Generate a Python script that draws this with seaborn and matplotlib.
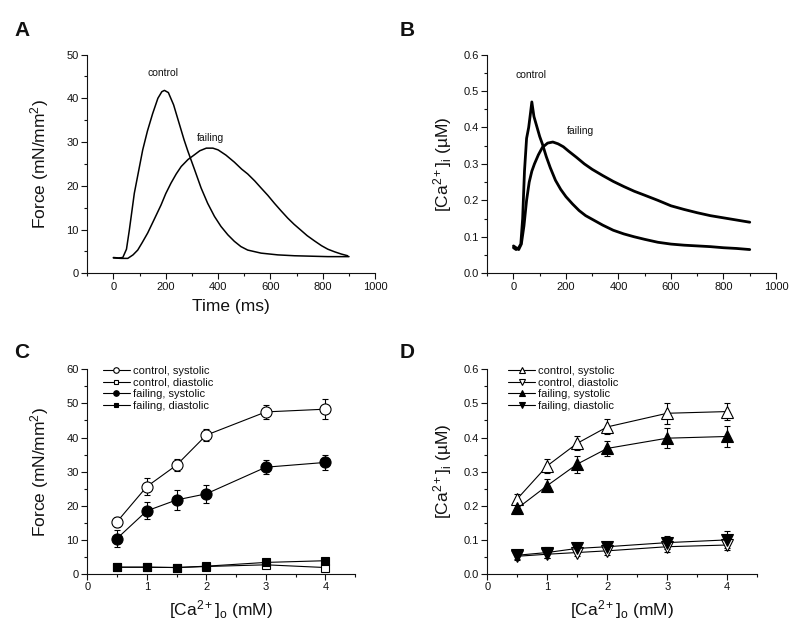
import numpy as np
import pandas as pd
import matplotlib
matplotlib.use("Agg")
import matplotlib.pyplot as plt
import seaborn as sns
from matplotlib.ticker import AutoMinorLocator, MultipleLocator, FormatStrFormatter

sns.set_style("ticks")
plt.rcParams["font.family"] = ["Liberation Sans", "DejaVu Sans"]
plt.rcParams["mathtext.fontset"] = "custom"
plt.rcParams["mathtext.rm"] = "Liberation Sans"
plt.rcParams["mathtext.it"] = "Liberation Sans:italic"
plt.rcParams["axes.linewidth"] = 0.8
plt.rcParams["xtick.direction"] = "out"
plt.rcParams["ytick.direction"] = "out"
for key in ["text.color", "axes.labelcolor", "xtick.color", "ytick.color", "axes.edgecolor"]:
    plt.rcParams[key] = "#111111"

# Panel A: force traces (ms, mN/mm^2)
force_ctrl_t = [0, 20, 36, 50, 61, 80, 112, 130, 150, 170, 185, 195, 210, 230, 250,
                270, 284, 310, 335, 360, 386, 411, 437, 462, 487, 513, 564, 628, 692,
                819, 900]
force_ctrl = [3.6, 3.5, 3.6, 5.5, 9.9, 18.3, 28.2, 32.5, 36.5, 40.0, 41.5, 41.8, 41.3,
              38.5, 34.5, 30.5, 28.0, 23.7, 19.5, 16.0, 13.0, 10.7, 8.8, 7.3, 6.1,
              5.3, 4.6, 4.2, 4.0, 3.8, 3.8]
force_fail_t = [0, 30, 55, 75, 93, 110, 131, 155, 182, 200, 220, 240, 259, 285, 310,
                330, 355, 380, 400, 430, 462, 490, 513, 540, 564, 590, 615, 640, 666,
                690, 717, 740, 768, 795, 819, 845, 870, 895]
force_fail = [3.5, 3.4, 3.4, 4.2, 5.3, 7.0, 9.2, 12.2, 15.6, 18.2, 20.6, 22.7, 24.4,
              26.0, 27.1, 28.0, 28.6, 28.6, 28.2, 27.0, 25.4, 23.8, 22.7, 21.1, 19.5,
              17.8, 16.0, 14.3, 12.6, 11.2, 9.8, 8.6, 7.4, 6.3, 5.5, 4.9, 4.4, 4.0]

# Panel B: calcium transients (ms, uM)
ca_ctrl_t = [0, 10, 20, 28, 35, 42, 50, 58, 65, 70, 78, 90, 100, 110, 125, 140, 160,
             180, 200, 225, 250, 275, 300, 340, 380, 420, 460, 500, 550, 600, 650,
             700, 750, 800, 850, 900]
ca_ctrl = [0.07, 0.065, 0.07, 0.08, 0.15, 0.28, 0.37, 0.40, 0.44, 0.47, 0.43, 0.40,
           0.375, 0.355, 0.32, 0.29, 0.255, 0.23, 0.21, 0.19, 0.172, 0.158, 0.148,
           0.132, 0.118, 0.108, 0.10, 0.093, 0.085, 0.08, 0.077, 0.075, 0.073, 0.07,
           0.068, 0.065]
ca_fail_t = [0, 10, 20, 30, 40, 50, 60, 70, 80, 95, 110, 130, 150, 170, 190, 210, 240,
             270, 300, 340, 380, 420, 460, 500, 550, 600, 650, 700, 750, 800, 850, 900]
ca_fail = [0.075, 0.07, 0.065, 0.08, 0.13, 0.20, 0.25, 0.28, 0.30, 0.325, 0.345, 0.357,
           0.36, 0.355, 0.347, 0.335, 0.318, 0.30, 0.285, 0.268, 0.252, 0.238, 0.225,
           0.214, 0.20, 0.185, 0.175, 0.166, 0.158, 0.152, 0.146, 0.14]

# Panels C and D: extracellular calcium (mM)
ca_out = [0.5, 1, 1.5, 2, 3, 4]

force_ctrl_sys = [15.3, 25.6, 31.9, 40.7, 47.5, 48.3]
force_ctrl_sys_err = [1.5, 2.4, 1.8, 1.8, 2.0, 3.0]
force_ctrl_dia = [2.0, 2.0, 1.9, 2.2, 2.7, 1.9]
force_ctrl_dia_err = [0.3, 0.3, 0.3, 0.4, 0.5, 0.5]
force_fail_sys = [10.4, 18.5, 21.7, 23.5, 31.3, 32.7]
force_fail_sys_err = [2.5, 2.5, 2.8, 2.7, 2.0, 2.2]
force_fail_dia = [2.0, 2.0, 1.9, 2.3, 3.4, 3.9]
force_fail_dia_err = [0.4, 0.4, 0.4, 0.4, 0.5, 0.5]

cai_ctrl_sys = [0.22, 0.317, 0.383, 0.431, 0.471, 0.476]
cai_ctrl_sys_err = [0.015, 0.02, 0.02, 0.022, 0.03, 0.025]
cai_ctrl_dia = [0.052, 0.058, 0.063, 0.068, 0.08, 0.085]
cai_ctrl_dia_err = [0.01, 0.01, 0.01, 0.012, 0.015, 0.015]
cai_fail_sys = [0.192, 0.259, 0.322, 0.368, 0.398, 0.403]
cai_fail_sys_err = [0.015, 0.02, 0.025, 0.022, 0.03, 0.03]
cai_fail_dia = [0.055, 0.063, 0.075, 0.08, 0.092, 0.10]
cai_fail_dia_err = [0.012, 0.015, 0.012, 0.015, 0.02, 0.025]

TICK_FS = 8
LABEL_FS = 12.5

fig = plt.figure(figsize=(8, 6.34), dpi=100)
axA = fig.add_axes([0.109, 0.569, 0.36, 0.345])
axB = fig.add_axes([0.609, 0.569, 0.361, 0.345])
axC = fig.add_axes([0.109, 0.0946, 0.335, 0.323])
axD = fig.add_axes([0.609, 0.0946, 0.3375, 0.323])


def style_axis(ax):
    sns.despine(ax=ax)
    ax.xaxis.set_minor_locator(AutoMinorLocator(2))
    ax.yaxis.set_minor_locator(AutoMinorLocator(2))
    ax.tick_params(which="major", length=4, width=0.8, labelsize=TICK_FS, pad=2)
    ax.tick_params(which="minor", length=2, width=0.8)


# A
sns.lineplot(x=force_ctrl_t, y=force_ctrl, ax=axA, color="black", linewidth=1.1)
sns.lineplot(x=force_fail_t, y=force_fail, ax=axA, color="black", linewidth=1.1)
axA.set_xlim(-100, 1000)
axA.set_ylim(0, 50)
axA.xaxis.set_major_locator(MultipleLocator(200))
axA.yaxis.set_major_locator(MultipleLocator(10))
axA.text(190, 45.7, "control", ha="center", va="center", fontsize=7.5)
axA.text(370, 31, "failing", ha="center", va="center", fontsize=7.5)
axA.set_xlabel("Time (ms)", fontsize=LABEL_FS, labelpad=5)
axA.set_ylabel("Force (mN/mm$^2$)", fontsize=LABEL_FS, labelpad=11)
style_axis(axA)

# B
sns.lineplot(x=ca_ctrl_t, y=ca_ctrl, ax=axB, color="black", linewidth=2.0)
sns.lineplot(x=ca_fail_t, y=ca_fail, ax=axB, color="black", linewidth=2.0)
axB.set_xlim(-100, 1000)
axB.set_ylim(0, 0.6)
axB.xaxis.set_major_locator(MultipleLocator(200))
axB.yaxis.set_major_locator(MultipleLocator(0.1))
axB.yaxis.set_major_formatter(FormatStrFormatter("%.1f"))
axB.text(65, 0.543, "control", ha="center", va="center", fontsize=7.5)
axB.text(256, 0.389, "failing", ha="center", va="center", fontsize=7.5)
axB.set_ylabel("[Ca$^{2+}$]$_\\mathrm{i}$ (\u00b5M)", fontsize=LABEL_FS, labelpad=7)
style_axis(axB)


def dose_series(ax, y, err, marker, filled, label, ms):
    face = "black" if filled else "white"
    ax.errorbar(ca_out, y, yerr=err, fmt="none", ecolor="black", elinewidth=0.8,
                capsize=2.5, capthick=0.8, zorder=2)
    sns.lineplot(x=ca_out, y=y, ax=ax, color="black", linewidth=0.8, marker=marker,
                 markersize=ms, markerfacecolor=face, markeredgecolor="black",
                 markeredgewidth=0.8, label=label, zorder=3)


# C
dose_series(axC, force_ctrl_sys, force_ctrl_sys_err, "o", False, "control, systolic", 8)
dose_series(axC, force_ctrl_dia, force_ctrl_dia_err, "s", False, "control, diastolic", 6)
dose_series(axC, force_fail_sys, force_fail_sys_err, "o", True, "failing, systolic", 8)
dose_series(axC, force_fail_dia, force_fail_dia_err, "s", True, "failing, diastolic", 6)
axC.set_xlim(0, 4.5)
axC.set_ylim(0, 60)
axC.xaxis.set_major_locator(MultipleLocator(1))
axC.yaxis.set_major_locator(MultipleLocator(10))
axC.set_xlabel("[Ca$^{2+}$]$_\\mathrm{o}$ (mM)", fontsize=LABEL_FS, labelpad=4)
axC.set_ylabel("Force (mN/mm$^2$)", fontsize=LABEL_FS, labelpad=11)
style_axis(axC)
axC.legend(loc="upper left", bbox_to_anchor=(0.03, 1.055), frameon=False,
           fontsize=8, markerscale=0.5, handlelength=2.4, handletextpad=0.3,
           labelspacing=0.16, borderpad=0.2)

# D
dose_series(axD, cai_ctrl_sys, cai_ctrl_sys_err, "^", False, "control, systolic", 9)
dose_series(axD, cai_ctrl_dia, cai_ctrl_dia_err, "v", False, "control, diastolic", 9)
dose_series(axD, cai_fail_sys, cai_fail_sys_err, "^", True, "failing, systolic", 9)
dose_series(axD, cai_fail_dia, cai_fail_dia_err, "v", True, "failing, diastolic", 9)
axD.set_xlim(0, 4.5)
axD.set_ylim(0, 0.6)
axD.xaxis.set_major_locator(MultipleLocator(1))
axD.yaxis.set_major_locator(MultipleLocator(0.1))
axD.yaxis.set_major_formatter(FormatStrFormatter("%.1f"))
axD.set_xlabel("[Ca$^{2+}$]$_\\mathrm{o}$ (mM)", fontsize=LABEL_FS, labelpad=4)
axD.set_ylabel("[Ca$^{2+}$]$_\\mathrm{i}$ (\u00b5M)", fontsize=LABEL_FS, labelpad=7)
style_axis(axD)
axD.legend(loc="upper left", bbox_to_anchor=(0.05, 1.055), frameon=False,
           fontsize=8, markerscale=0.5, handlelength=2.4, handletextpad=0.3,
           labelspacing=0.16, borderpad=0.2)

# panel letters
for lbl, (px, py) in zip("ABCD", [(14, 30), (400, 30), (14, 352), (400, 352)]):
    fig.text(px / 800, 1 - py / 634, lbl, fontsize=15, fontweight="bold",
             ha="left", va="center")

fig.savefig("out.png", dpi=100)
